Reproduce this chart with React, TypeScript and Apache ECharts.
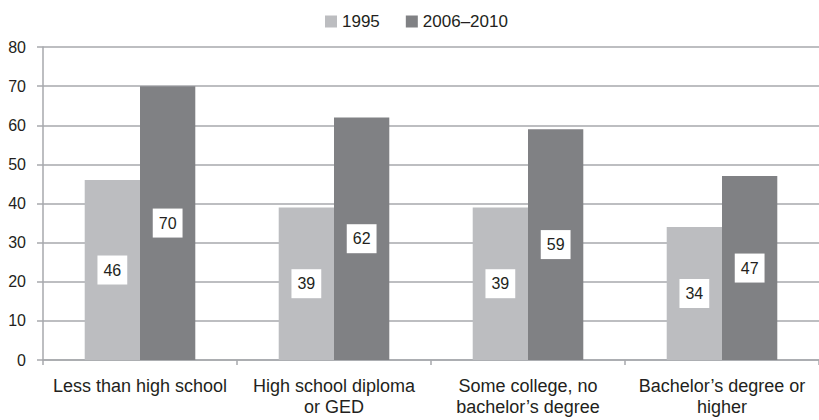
import React, { useEffect, useRef } from "react";
import * as echarts from "echarts";

const categories = [
  "Less than high school",
  "High school diploma\nor GED",
  "Some college, no\nbachelor\u2019s degree",
  "Bachelor\u2019s degree or\nhigher",
];
const seriesNames = ["1995", "2006\u20132010"];
const values1995 = [46, 39, 39, 34];
const values2006 = [70, 62, 59, 47];
const yTicks = { min: 0, max: 80, interval: 10 };

const FONT = "'Liberation Sans', Arial, Helvetica, sans-serif";
const TEXT = "#231f20";
const GRID = "#a7a9ac";

export default function App() {
  const ref = useRef<HTMLDivElement>(null);
  useEffect(() => {
    document.body.style.margin = "0";
    if (!ref.current) return;
    const chart = echarts.init(ref.current, undefined, { renderer: "svg" });
    const label = {
      show: true,
      position: "inside",
      backgroundColor: "#ffffff",
      padding: [7, 6, 6, 6],
      color: TEXT,
      fontSize: 16,
      fontFamily: FONT,
    };
    chart.setOption({
      animation: false,
      backgroundColor: "#ffffff",
      textStyle: { fontFamily: FONT, color: TEXT },
      legend: {
        top: 8,
        left: 320,
        itemWidth: 12,
        itemHeight: 12,
        itemGap: 26,
        icon: "rect",
        textStyle: { fontSize: 17, color: TEXT, fontFamily: FONT },
        data: seriesNames,
      },
      grid: { left: 43, top: 47, width: 778, height: 313, containLabel: false },
      xAxis: {
        type: "category",
        data: categories,
        axisLine: { lineStyle: { color: GRID, width: 1.5 } },
        axisTick: { show: true, length: 5, lineStyle: { color: GRID, width: 1.5 } },
        axisLabel: {
          color: TEXT,
          fontSize: 18,
          fontFamily: FONT,
          margin: 15,
          lineHeight: 21,
          interval: 0,
        },
      },
      yAxis: {
        type: "value",
        min: yTicks.min,
        max: yTicks.max,
        interval: yTicks.interval,
        axisLine: { show: true, lineStyle: { color: GRID, width: 1.5 } },
        axisTick: { show: true, length: 6, lineStyle: { color: GRID, width: 1.5 } },
        splitLine: { lineStyle: { color: GRID, width: 1.5 } },
        axisLabel: { color: TEXT, fontSize: 16, fontFamily: FONT, margin: 17 },
      },
      series: [
        {
          name: seriesNames[0],
          type: "bar",
          data: values1995,
          barGap: "0%",
          barCategoryGap: "43%",
          itemStyle: { color: "#bcbdc0" },
          label,
        },
        {
          name: seriesNames[1],
          type: "bar",
          data: values2006,
          barGap: "0%",
          barCategoryGap: "43%",
          itemStyle: { color: "#808184" },
          label,
        },
      ],
    });
    return () => chart.dispose();
  }, []);
  return <div ref={ref} style={{ width: 819, height: 420 }} />;
}
